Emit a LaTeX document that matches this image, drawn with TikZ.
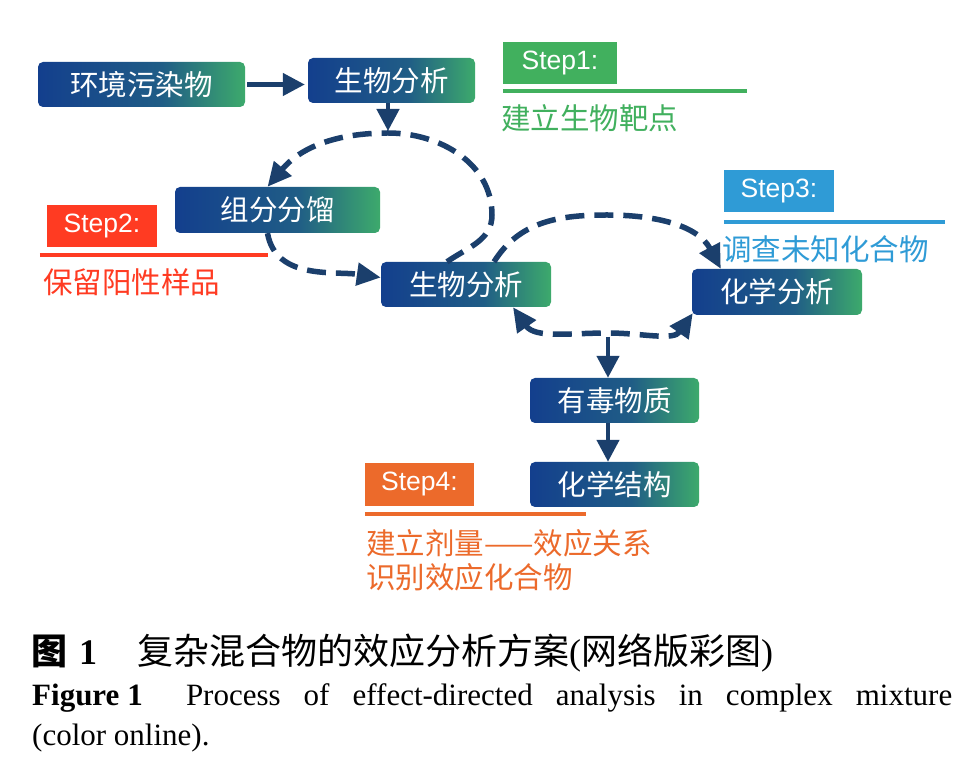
\documentclass[tikz,border=0pt]{standalone}
\usepackage{fontspec}
\setmainfont{Liberation Serif}
\setsansfont{Liberation Sans}
\newfontfamily\cjk{Noto Sans CJK SC}
\usetikzlibrary{arrows.meta}

\definecolor{boxblue}{HTML}{133F8D}
\definecolor{boxmid}{HTML}{205D86}
\definecolor{boxgreen}{HTML}{3DAA6C}
\definecolor{arrownavy}{HTML}{1B3F6C}
\definecolor{stepgreen}{HTML}{41B05E}
\definecolor{stepred}{HTML}{FF3B22}
\definecolor{stepblue}{HTML}{2F9BD6}
\definecolor{steporange}{HTML}{EC6A2B}
\pgfdeclarehorizontalshading{boxshade}{100bp}{color(0bp)=(boxblue); color(25bp)=(boxblue); color(55bp)=(boxmid); color(75bp)=(boxgreen); color(100bp)=(boxgreen)}

\begin{document}
\begin{tikzpicture}[x=1pt,y=1pt,
	flowbox/.style={shading=boxshade, rounded corners=5pt, minimum width=170pt, minimum height=45pt, inner sep=0pt, text=white, font=\cjk\fontsize{28.5}{30}\selectfont},
	steptag/.style={fill=#1, minimum width=110pt, minimum height=42pt, inner sep=0pt, text=white, font=\sffamily\fontsize{26.5}{30}\selectfont},
	steprule/.style={draw=#1, line width=4pt},
	stepnote/.style={anchor=west, inner sep=0pt, text=#1, align=left, font=\cjk\fontsize{29.5}{34}\selectfont},
	flowarrow/.style={draw=arrownavy, line width=4.5pt, -{Triangle[length=22pt,width=22pt]}},
	loopline/.style={draw=arrownavy, line width=5.5pt, dash pattern=on 19pt off 10pt},
	looptip/.style={-{Triangle[length=24pt,width=22pt]}},
	loopboth/.style={{Triangle[length=24pt,width=22pt]}-{Triangle[length=24pt,width=22pt]}}
	]
	
	\fill[white] (0,0) rectangle (972,782);
	%\draw[step=50,black!20,thin] (0,0) grid (972,782);
	
	% boxes
	\node[flowbox, minimum width=207pt] (env) at (141.5,697.5) {环境污染物};
	\node[flowbox, minimum width=167pt] (bio1) at (391.5,701.5) {生物分析};
	\node[flowbox, minimum width=205pt, minimum height=46pt] (frac) at (277.5,572) {组分分馏};
	\node[flowbox] (bio2) at (466,497.5) {生物分析};
	\node[flowbox, minimum height=46pt] (chem) at (777,490) {化学分析};
	\node[flowbox, minimum width=169pt] (toxic) at (614.5,381.5) {有毒物质};
	\node[flowbox, minimum width=169pt] (struct) at (614.5,297.5) {化学结构};
	
	% step labels
	\node[steptag=stepgreen, minimum width=114pt] (s1) at (560,719) {Step1:};
	\draw[steprule=stepgreen] ([yshift=-7pt]s1.south west) -- ++(244,0);
	\node[stepnote=stepgreen] (s1note) at (501,664) {建立生物靶点};
	
	\node[steptag=stepred] (s2) at (102,556) {Step2:};
	\draw[steprule=stepred] ([xshift=-7pt,yshift=-8pt]s2.south west) -- ++(228,0);
	\node[stepnote=stepred] (s2note) at (43,500) {保留阳性样品};
	
	\node[steptag=stepblue] (s3) at (779,591) {Step3:};
	\draw[steprule=stepblue] ([yshift=-10pt]s3.south west) -- ++(221,0);
	\node[stepnote=stepblue] (s3note) at (722,533) {调查未知化合物};
	
	\node[steptag=steporange, minimum width=109pt, minimum height=43pt] (s4) at (419.5,297.5) {Step4:};
	\draw[steprule=steporange] ([yshift=-8pt]s4.south west) -- ++(221,0);
	\node[stepnote=steporange] (s4note) at (366,222) {建立剂量——效应关系\\识别效应化合物};
	
	% loops
	\coordinate (loopAtop) at (388,649);
	\coordinate (loopAright) at (492,567);
	\coordinate (loopBtop) at (607,567);
	\coordinate (loopBbottom) at (608,449);
	
	\draw[loopline, looptip] ([xshift=-19pt]bio2.north) to[out=35,in=-90] (loopAright) to[out=90,in=0] (loopAtop) to[out=180,in=50] ([xshift=-10pt]frac.north);
	\draw[loopline, looptip] ([xshift=-10pt]frac.south) to[out=-80,in=172] ([yshift=7pt]bio2.west);
	\draw[loopline, looptip] ([xshift=28pt]bio2.north) to[out=58,in=180] (loopBtop) to[out=0,in=118] ([xshift=29pt]chem.north west);
	\draw[loopline, loopboth] ([xshift=47pt]bio2.south) to[out=-55,in=180] (loopBbottom) to[out=0,in=-125] ([xshift=1pt,yshift=2pt]chem.south west);
	
	% solid arrows
	\draw[flowarrow, shorten <=2pt, shorten >=3pt] (env.east) -- (env.east -| bio1.west);
	\draw[flowarrow, shorten >=2pt] (bio1.south -| loopAtop) -- (loopAtop);
	\draw[flowarrow, shorten <=4pt] (loopBbottom) -- (loopBbottom |- toxic.north);
	\draw[flowarrow] (toxic.south -| loopBbottom) -- (struct.north -| loopBbottom);
	
	% caption
	\node[anchor=base west, inner sep=0pt, font=\fontsize{36}{40}\selectfont] (capzh) at (31,117) {{\cjk\bfseries 图}\hspace{12pt}\textbf{1}\hspace{40pt}{\cjk 复杂混合物的效应分析方案}({\cjk 网络版彩图})};
	\node[anchor=base west, inner sep=0pt, font=\fontsize{31}{40}\selectfont] (capen) at (32,76) {\makebox[920pt][s]{\textbf{Figure\hspace{8pt}1}\hspace{20pt} Process of effect-directed analysis in complex mixture}};
	\node[anchor=base west, inner sep=0pt, font=\fontsize{31}{40}\selectfont] (capen2) at (32,37) {(color online).};
	
\end{tikzpicture}
\end{document}
